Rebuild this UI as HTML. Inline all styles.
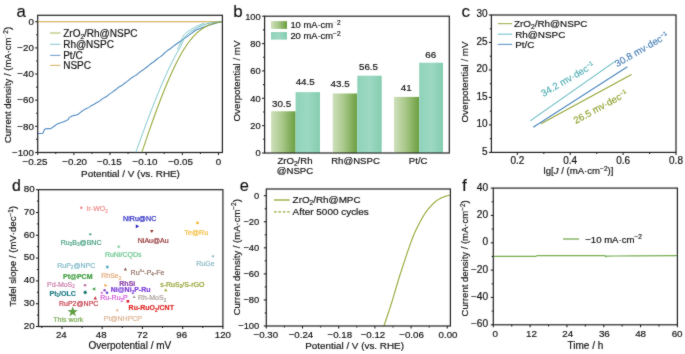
<!DOCTYPE html>
<html><head><meta charset="utf-8"><style>
html,body{margin:0;padding:0;background:#fff;width:685px;height:354px;overflow:hidden}
svg{display:block;font-family:"Liberation Sans", sans-serif}
</style></head><body>
<svg width="685" height="354" viewBox="0 0 685 354">
<defs><filter id="bl" x="0" y="0" width="1" height="1"><feConvolveMatrix order="3" kernelMatrix="1 2 1 2 24 2 1 2 1" edgeMode="none" preserveAlpha="false"/></filter></defs>
<rect width="685" height="354" fill="#fff"/>
<g filter="url(#bl)">
<text x="16.60" y="17.00" font-size="16.8" text-anchor="start" fill="#111" stroke="#111" stroke-width="0.15" >a</text>
<polyline points="38.30,21.70 221.80,21.70" fill="none" stroke="#c9a23a" stroke-width="1.15" stroke-linejoin="round" stroke-linecap="round" />
<polyline points="38.00,133.60 40.45,133.40 42.90,133.20 44.00,130.50 44.80,129.00 47.80,128.61 50.80,128.70 53.75,126.54 56.70,124.30 59.17,123.21 61.65,122.44 64.12,121.49 66.60,120.40 68.30,119.50 69.20,117.40 71.63,116.21 74.07,115.36 76.50,115.00 78.97,113.68 81.45,111.53 83.93,109.89 86.40,108.50 88.70,107.63 91.00,105.84 93.30,104.85 95.60,103.21 97.90,102.04 100.20,100.60 102.50,98.65 104.80,97.45 107.10,96.03 109.40,94.09 111.70,92.65 114.00,90.80 116.47,89.20 118.95,86.91 121.43,85.78 123.90,83.80 126.62,81.91 129.35,79.67 132.08,77.45 134.80,75.90 137.13,74.46 139.47,72.34 141.80,70.80 144.13,69.17 146.47,67.26 148.80,65.68 151.13,63.44 153.47,62.04 155.80,60.00 158.20,58.08 160.60,56.64 163.00,54.72 165.40,52.14 167.80,50.30 170.20,48.75 172.60,46.88 175.00,45.00 177.55,43.23 180.10,41.45 182.65,39.67 185.20,37.90 187.40,36.30 189.60,34.70 191.80,33.10 194.00,31.50 196.20,29.90 198.74,28.96 201.28,28.02 203.82,27.08 206.36,26.14 208.90,25.20 211.10,24.58 213.30,23.96 215.50,23.34 217.70,22.72 219.90,22.10 222.00,21.70" fill="none" stroke="#4a86bf" stroke-width="1.05" stroke-linejoin="round" stroke-linecap="round" />
<polyline points="135.82,152.30 136.00,151.80 136.18,151.30 136.35,150.80 136.53,150.30 136.71,149.80 136.89,149.30 137.07,148.80 137.25,148.30 137.43,147.80 137.61,147.30 137.79,146.80 137.96,146.30 138.14,145.80 138.32,145.30 138.50,144.80 138.68,144.30 138.86,143.80 139.04,143.30 139.22,142.80 139.41,142.30 139.59,141.80 139.77,141.30 139.95,140.80 140.13,140.30 140.31,139.80 140.49,139.30 140.67,138.80 140.86,138.30 141.04,137.80 141.22,137.30 141.40,136.80 141.58,136.30 141.77,135.80 141.95,135.30 142.13,134.80 142.32,134.30 142.50,133.80 142.68,133.30 142.87,132.80 143.05,132.30 143.23,131.80 143.42,131.30 143.60,130.80 143.79,130.30 143.97,129.80 144.16,129.30 144.34,128.80 144.53,128.30 144.71,127.80 144.90,127.30 145.08,126.80 145.27,126.30 145.45,125.80 145.64,125.30 145.83,124.80 146.01,124.30 146.20,123.80 146.39,123.30 146.58,122.80 146.76,122.30 146.95,121.80 147.14,121.30 147.33,120.80 147.52,120.30 147.70,119.80 147.89,119.30 148.08,118.80 148.27,118.30 148.46,117.80 148.65,117.30 148.84,116.80 149.03,116.30 149.22,115.80 149.41,115.30 149.60,114.80 149.79,114.30 149.99,113.80 150.18,113.30 150.37,112.80 150.56,112.30 150.75,111.80 150.95,111.30 151.14,110.80 151.33,110.30 151.53,109.80 151.72,109.30 151.92,108.80 152.11,108.30 152.30,107.80 152.50,107.30 152.69,106.80 152.89,106.30 153.09,105.80 153.28,105.30 153.48,104.80 153.68,104.30 153.87,103.80 154.07,103.30 154.27,102.80 154.47,102.30 154.66,101.80 154.86,101.30 155.06,100.80 155.26,100.30 155.46,99.80 155.66,99.30 155.86,98.80 156.06,98.30 156.26,97.80 156.47,97.30 156.67,96.80 156.87,96.30 157.07,95.80 157.27,95.30 157.48,94.80 157.68,94.30 157.89,93.80 158.09,93.30 158.30,92.80 158.50,92.30 158.71,91.80 158.91,91.30 159.12,90.80 159.33,90.30 159.54,89.80 159.74,89.30 159.95,88.80 160.16,88.30 160.37,87.80 160.58,87.30 160.79,86.80 161.00,86.30 161.21,85.80 161.43,85.30 161.64,84.80 161.85,84.30 162.07,83.80 162.28,83.30 162.49,82.80 162.71,82.30 162.93,81.80 163.14,81.30 163.36,80.80 163.58,80.30 163.80,79.80 164.01,79.30 164.23,78.80 164.45,78.30 164.68,77.80 164.90,77.30 165.12,76.80 165.34,76.30 165.57,75.80 165.79,75.30 166.02,74.80 166.24,74.30 166.47,73.80 166.70,73.30 166.92,72.80 167.15,72.30 167.38,71.80 167.61,71.30 167.85,70.80 168.08,70.30 168.31,69.80 168.55,69.30 168.78,68.80 169.02,68.30 169.25,67.80 169.49,67.30 169.73,66.80 169.97,66.30 170.21,65.80 170.45,65.30 170.70,64.80 170.94,64.30 171.19,63.80 171.44,63.30 171.68,62.80 171.93,62.30 172.18,61.80 172.44,61.30 172.69,60.80 172.94,60.30 173.20,59.80 173.46,59.30 173.72,58.80 173.98,58.30 174.24,57.80 174.50,57.30 174.77,56.80 175.04,56.30 175.30,55.80 175.57,55.30 175.85,54.80 176.12,54.30 176.40,53.80 176.67,53.30 176.95,52.80 177.24,52.30 177.52,51.80 177.80,51.30 178.09,50.80 178.37,50.30 178.66,49.80 178.95,49.30 179.23,48.80 179.52,48.30 179.80,47.80 180.08,47.30 180.35,46.80 180.62,46.30 180.88,45.80 181.14,45.30 181.38,44.80 181.62,44.30 181.85,43.80 182.06,43.30 182.27,42.80 182.47,42.30 182.67,41.80 182.86,41.30 183.05,40.80 183.25,40.30 183.46,39.80 183.67,39.30 183.91,38.80 184.17,38.30 184.46,37.80 184.78,37.30 185.13,36.80 185.52,36.30 185.96,35.80 186.43,35.30 186.95,34.80 187.50,34.30 188.09,33.80 188.71,33.30 189.37,32.80 190.06,32.30 190.77,31.80 191.50,31.30 192.26,30.80 193.03,30.30 193.82,29.80 194.63,29.30 195.46,28.80 196.32,28.30 197.21,27.80 198.13,27.30 199.10,26.80 200.12,26.30 201.22,25.80 202.41,25.30 203.72,24.80 205.19,24.30 206.89,23.80 208.91,23.30 211.43,22.80 214.86,22.30 220.33,21.80 221.98,21.70" fill="none" stroke="#62b9c0" stroke-width="1.0" stroke-linejoin="round" stroke-linecap="round" />
<polyline points="177.46,48.90 177.75,48.40 178.03,47.90 178.31,47.40 178.60,46.90 178.87,46.40 179.15,45.90 179.41,45.40 179.67,44.90 179.92,44.40 180.17,43.90 180.40,43.40 180.61,42.90 180.82,42.40 181.02,41.90 181.20,41.40 181.38,40.90 181.54,40.40 181.71,39.90 181.87,39.40 182.03,38.90 182.21,38.40 182.40,37.90 182.60,37.40 182.84,36.90 183.10,36.40 183.40,35.90 183.73,35.40 184.11,34.90 184.54,34.40 185.01,33.90 185.54,33.40 186.10,32.90 186.72,32.40 187.37,31.90 188.07,31.40 188.80,30.90 189.56,30.40 190.36,29.90 191.18,29.40 192.02,28.90 192.89,28.40 193.77,27.90 194.69,27.40 195.63,26.90 196.61,26.40 197.62,25.90 198.69,25.40 199.83,24.90 201.05,24.40 202.40,23.90 203.89,23.40" fill="none" stroke="#62b9c0" stroke-width="0.8" stroke-linejoin="round" stroke-linecap="round" />
<polyline points="141.89,152.30 142.05,151.80 142.22,151.30 142.39,150.80 142.55,150.30 142.72,149.80 142.89,149.30 143.05,148.80 143.22,148.30 143.39,147.80 143.56,147.30 143.72,146.80 143.89,146.30 144.06,145.80 144.23,145.30 144.39,144.80 144.56,144.30 144.73,143.80 144.90,143.30 145.07,142.80 145.24,142.30 145.41,141.80 145.58,141.30 145.75,140.80 145.92,140.30 146.09,139.80 146.26,139.30 146.43,138.80 146.60,138.30 146.77,137.80 146.94,137.30 147.11,136.80 147.28,136.30 147.45,135.80 147.63,135.30 147.80,134.80 147.97,134.30 148.14,133.80 148.32,133.30 148.49,132.80 148.66,132.30 148.83,131.80 149.01,131.30 149.18,130.80 149.36,130.30 149.53,129.80 149.70,129.30 149.88,128.80 150.05,128.30 150.23,127.80 150.40,127.30 150.58,126.80 150.75,126.30 150.93,125.80 151.11,125.30 151.28,124.80 151.46,124.30 151.64,123.80 151.81,123.30 151.99,122.80 152.17,122.30 152.35,121.80 152.53,121.30 152.70,120.80 152.88,120.30 153.06,119.80 153.24,119.30 153.42,118.80 153.60,118.30 153.78,117.80 153.96,117.30 154.14,116.80 154.32,116.30 154.50,115.80 154.69,115.30 154.87,114.80 155.05,114.30 155.23,113.80 155.42,113.30 155.60,112.80 155.78,112.30 155.97,111.80 156.15,111.30 156.33,110.80 156.52,110.30 156.70,109.80 156.89,109.30 157.08,108.80 157.26,108.30 157.45,107.80 157.63,107.30 157.82,106.80 158.01,106.30 158.20,105.80 158.39,105.30 158.57,104.80 158.76,104.30 158.95,103.80 159.14,103.30 159.33,102.80 159.52,102.30 159.71,101.80 159.91,101.30 160.10,100.80 160.29,100.30 160.48,99.80 160.67,99.30 160.87,98.80 161.06,98.30 161.26,97.80 161.45,97.30 161.65,96.80 161.84,96.30 162.04,95.80 162.23,95.30 162.43,94.80 162.63,94.30 162.83,93.80 163.03,93.30 163.22,92.80 163.42,92.30 163.62,91.80 163.83,91.30 164.03,90.80 164.23,90.30 164.43,89.80 164.63,89.30 164.84,88.80 165.04,88.30 165.24,87.80 165.45,87.30 165.66,86.80 165.86,86.30 166.07,85.80 166.28,85.30 166.48,84.80 166.69,84.30 166.90,83.80 167.11,83.30 167.32,82.80 167.54,82.30 167.75,81.80 167.96,81.30 168.17,80.80 168.39,80.30 168.60,79.80 168.82,79.30 169.04,78.80 169.25,78.30 169.47,77.80 169.69,77.30 169.91,76.80 170.13,76.30 170.35,75.80 170.57,75.30 170.80,74.80 171.02,74.30 171.25,73.80 171.47,73.30 171.70,72.80 171.93,72.30 172.16,71.80 172.39,71.30 172.62,70.80 172.85,70.30 173.08,69.80 173.32,69.30 173.55,68.80 173.79,68.30 174.03,67.80 174.27,67.30 174.51,66.80 174.75,66.30 174.99,65.80 175.23,65.30 175.48,64.80 175.73,64.30 175.97,63.80 176.22,63.30 176.47,62.80 176.73,62.30 176.98,61.80 177.23,61.30 177.49,60.80 177.75,60.30 178.01,59.80 178.27,59.30 178.54,58.80 178.80,58.30 179.07,57.80 179.34,57.30 179.61,56.80 179.88,56.30 180.16,55.80 180.43,55.30 180.71,54.80 181.00,54.30 181.28,53.80 181.57,53.30 181.85,52.80 182.15,52.30 182.44,51.80 182.74,51.30 183.04,50.80 183.34,50.30 183.64,49.80 183.95,49.30 184.26,48.80 184.58,48.30 184.90,47.80 185.22,47.30 185.54,46.80 185.87,46.30 186.21,45.80 186.54,45.30 186.88,44.80 187.23,44.30 187.58,43.80 187.93,43.30 188.29,42.80 188.66,42.30 189.03,41.80 189.41,41.30 189.79,40.80 190.18,40.30 190.57,39.80 190.98,39.30 191.39,38.80 191.80,38.30 192.23,37.80 192.66,37.30 193.11,36.80 193.56,36.30 194.02,35.80 194.50,35.30 194.98,34.80 195.48,34.30 195.99,33.80 196.52,33.30 197.06,32.80 197.62,32.30 198.19,31.80 198.79,31.30 199.40,30.80 200.04,30.30 200.71,29.80 201.41,29.30 202.13,28.80 202.89,28.30 203.70,27.80 204.54,27.30 205.44,26.80 206.40,26.30 207.43,25.80 208.54,25.30 209.75,24.80 211.08,24.30 212.56,23.80 214.24,23.30 216.17,22.80 218.48,22.30 221.33,21.80 222.00,21.70" fill="none" stroke="#93a634" stroke-width="1.05" stroke-linejoin="round" stroke-linecap="round" />
<rect x="37.70" y="15.30" width="184.70" height="137.20" fill="none" stroke="#222" stroke-width="1.2"/>
<line x1="35.20" y1="21.70" x2="37.70" y2="21.70" stroke="#222" stroke-width="1.1" />
<text x="33.80" y="25.00" font-size="9.7" text-anchor="end" fill="#111" stroke="#111" stroke-width="0.18" >0</text>
<line x1="35.20" y1="47.86" x2="37.70" y2="47.86" stroke="#222" stroke-width="1.1" />
<text x="33.80" y="51.16" font-size="9.7" text-anchor="end" fill="#111" stroke="#111" stroke-width="0.18" >−20</text>
<line x1="35.20" y1="74.02" x2="37.70" y2="74.02" stroke="#222" stroke-width="1.1" />
<text x="33.80" y="77.32" font-size="9.7" text-anchor="end" fill="#111" stroke="#111" stroke-width="0.18" >−40</text>
<line x1="35.20" y1="100.18" x2="37.70" y2="100.18" stroke="#222" stroke-width="1.1" />
<text x="33.80" y="103.48" font-size="9.7" text-anchor="end" fill="#111" stroke="#111" stroke-width="0.18" >−60</text>
<line x1="35.20" y1="126.34" x2="37.70" y2="126.34" stroke="#222" stroke-width="1.1" />
<text x="33.80" y="129.64" font-size="9.7" text-anchor="end" fill="#111" stroke="#111" stroke-width="0.18" >−80</text>
<line x1="35.20" y1="152.50" x2="37.70" y2="152.50" stroke="#222" stroke-width="1.1" />
<text x="33.80" y="155.80" font-size="9.7" text-anchor="end" fill="#111" stroke="#111" stroke-width="0.18" >−100</text>
<line x1="36.10" y1="34.78" x2="37.70" y2="34.78" stroke="#222" stroke-width="1.1" />
<line x1="36.10" y1="60.94" x2="37.70" y2="60.94" stroke="#222" stroke-width="1.1" />
<line x1="36.10" y1="87.10" x2="37.70" y2="87.10" stroke="#222" stroke-width="1.1" />
<line x1="36.10" y1="113.26" x2="37.70" y2="113.26" stroke="#222" stroke-width="1.1" />
<line x1="36.10" y1="139.42" x2="37.70" y2="139.42" stroke="#222" stroke-width="1.1" />
<line x1="37.70" y1="152.50" x2="37.70" y2="155.00" stroke="#222" stroke-width="1.1" />
<text x="35.00" y="165.30" font-size="9.8" text-anchor="middle" fill="#111" stroke="#111" stroke-width="0.18" >−0.25</text>
<line x1="73.86" y1="152.50" x2="73.86" y2="155.00" stroke="#222" stroke-width="1.1" />
<text x="74.66" y="165.30" font-size="9.8" text-anchor="middle" fill="#111" stroke="#111" stroke-width="0.18" >−0.20</text>
<line x1="110.02" y1="152.50" x2="110.02" y2="155.00" stroke="#222" stroke-width="1.1" />
<text x="109.32" y="165.30" font-size="9.8" text-anchor="middle" fill="#111" stroke="#111" stroke-width="0.18" >−0.15</text>
<line x1="146.18" y1="152.50" x2="146.18" y2="155.00" stroke="#222" stroke-width="1.1" />
<text x="144.98" y="165.30" font-size="9.8" text-anchor="middle" fill="#111" stroke="#111" stroke-width="0.18" >−0.10</text>
<line x1="182.34" y1="152.50" x2="182.34" y2="155.00" stroke="#222" stroke-width="1.1" />
<text x="180.54" y="165.30" font-size="9.8" text-anchor="middle" fill="#111" stroke="#111" stroke-width="0.18" >−0.05</text>
<line x1="218.50" y1="152.50" x2="218.50" y2="155.00" stroke="#222" stroke-width="1.1" />
<text x="218.50" y="165.30" font-size="9.8" text-anchor="middle" fill="#111" stroke="#111" stroke-width="0.18" >0</text>
<line x1="55.78" y1="152.50" x2="55.78" y2="154.10" stroke="#222" stroke-width="1.1" />
<line x1="91.94" y1="152.50" x2="91.94" y2="154.10" stroke="#222" stroke-width="1.1" />
<line x1="128.10" y1="152.50" x2="128.10" y2="154.10" stroke="#222" stroke-width="1.1" />
<line x1="164.26" y1="152.50" x2="164.26" y2="154.10" stroke="#222" stroke-width="1.1" />
<line x1="200.42" y1="152.50" x2="200.42" y2="154.10" stroke="#222" stroke-width="1.1" />
<text x="130.50" y="176.50" font-size="9.9" text-anchor="middle" fill="#111" stroke="#111" stroke-width="0.18" >Potential / V (vs. RHE)</text>
<text x="0" y="0" font-size="9.5" text-anchor="middle" fill="#111" stroke="#111" stroke-width="0.18" transform="translate(11.40,85.00) rotate(-90)">Current density / (mA·cm<tspan dy="-3.5" font-size="6.5"><tspan fill-opacity="0.25" stroke-opacity="0.25">−</tspan>2</tspan><tspan dy="3.5">)</tspan></text>
<line x1="50.10" y1="33.00" x2="60.40" y2="33.00" stroke="#93a634" stroke-width="1.1" stroke-opacity="0.75"/>
<text x="63.20" y="36.50" font-size="10" text-anchor="start" fill="#111" stroke="#111" stroke-width="0.18" >ZrO<tspan dy="2.2" font-size="6.5">2</tspan><tspan dy="-2.2">/Rh@NSPC</tspan></text>
<line x1="50.10" y1="44.30" x2="60.40" y2="44.30" stroke="#62b9c0" stroke-width="1.1" stroke-opacity="0.75"/>
<text x="63.20" y="47.80" font-size="10" text-anchor="start" fill="#111" stroke="#111" stroke-width="0.18" >Rh@NSPC</text>
<line x1="50.10" y1="55.40" x2="60.40" y2="55.40" stroke="#4a86bf" stroke-width="1.1" stroke-opacity="0.75"/>
<text x="63.20" y="58.90" font-size="10" text-anchor="start" fill="#111" stroke="#111" stroke-width="0.18" >Pt/C</text>
<line x1="50.10" y1="65.40" x2="60.40" y2="65.40" stroke="#c9a23a" stroke-width="1.1" stroke-opacity="0.75"/>
<text x="63.20" y="68.90" font-size="10" text-anchor="start" fill="#111" stroke="#111" stroke-width="0.18" >NSPC</text>
<text x="233.20" y="17.10" font-size="16.9" text-anchor="start" fill="#111" stroke="#111" stroke-width="0.15" >b</text>
<defs><linearGradient id="g10" x1="0" x2="1" y1="0" y2="0"><stop offset="0" stop-color="#cfe0bc"/><stop offset="0.45" stop-color="#a9c88a"/><stop offset="1" stop-color="#6a9e3e"/></linearGradient><linearGradient id="g20" x1="0" x2="1" y1="0" y2="0"><stop offset="0" stop-color="#8fd3b9"/><stop offset="0.5" stop-color="#9dd8c3"/><stop offset="1" stop-color="#84cdb0"/></linearGradient></defs>
<rect x="271.10" y="111.28" width="24.50" height="41.72" fill="url(#g10)" />
<text x="281.60" y="106.90" font-size="9.8" text-anchor="middle" fill="#111" stroke="#111" stroke-width="0.18" >30.5</text>
<rect x="295.60" y="92.12" width="24.40" height="60.88" fill="url(#g20)" />
<text x="305.20" y="85.20" font-size="9.8" text-anchor="middle" fill="#111" stroke="#111" stroke-width="0.18" >44.5</text>
<rect x="332.70" y="93.49" width="24.60" height="59.51" fill="url(#g10)" />
<text x="340.10" y="87.20" font-size="9.8" text-anchor="middle" fill="#111" stroke="#111" stroke-width="0.18" >43.5</text>
<rect x="357.30" y="75.71" width="24.40" height="77.29" fill="url(#g20)" />
<text x="368.50" y="69.80" font-size="9.8" text-anchor="middle" fill="#111" stroke="#111" stroke-width="0.18" >56.5</text>
<rect x="394.00" y="96.91" width="25.20" height="56.09" fill="url(#g10)" />
<text x="406.20" y="90.50" font-size="9.8" text-anchor="middle" fill="#111" stroke="#111" stroke-width="0.18" >41</text>
<rect x="419.20" y="62.71" width="23.80" height="90.29" fill="url(#g20)" />
<text x="430.80" y="58.30" font-size="9.8" text-anchor="middle" fill="#111" stroke="#111" stroke-width="0.18" >66</text>
<rect x="264.60" y="16.20" width="184.70" height="136.80" fill="none" stroke="#222" stroke-width="1.2"/>
<line x1="262.10" y1="153.00" x2="264.60" y2="153.00" stroke="#222" stroke-width="1.1" />
<text x="260.70" y="156.30" font-size="9.3" text-anchor="end" fill="#111" stroke="#111" stroke-width="0.18" >0</text>
<line x1="262.10" y1="125.64" x2="264.60" y2="125.64" stroke="#222" stroke-width="1.1" />
<text x="260.70" y="128.94" font-size="9.3" text-anchor="end" fill="#111" stroke="#111" stroke-width="0.18" >20</text>
<line x1="262.10" y1="98.28" x2="264.60" y2="98.28" stroke="#222" stroke-width="1.1" />
<text x="260.70" y="101.58" font-size="9.3" text-anchor="end" fill="#111" stroke="#111" stroke-width="0.18" >40</text>
<line x1="262.10" y1="70.92" x2="264.60" y2="70.92" stroke="#222" stroke-width="1.1" />
<text x="260.70" y="74.22" font-size="9.3" text-anchor="end" fill="#111" stroke="#111" stroke-width="0.18" >60</text>
<line x1="262.10" y1="43.56" x2="264.60" y2="43.56" stroke="#222" stroke-width="1.1" />
<text x="260.70" y="46.86" font-size="9.3" text-anchor="end" fill="#111" stroke="#111" stroke-width="0.18" >80</text>
<line x1="262.10" y1="16.20" x2="264.60" y2="16.20" stroke="#222" stroke-width="1.1" />
<text x="260.70" y="19.50" font-size="9.3" text-anchor="end" fill="#111" stroke="#111" stroke-width="0.18" >100</text>
<line x1="263.00" y1="139.32" x2="264.60" y2="139.32" stroke="#222" stroke-width="1.1" />
<line x1="263.00" y1="111.96" x2="264.60" y2="111.96" stroke="#222" stroke-width="1.1" />
<line x1="263.00" y1="84.60" x2="264.60" y2="84.60" stroke="#222" stroke-width="1.1" />
<line x1="263.00" y1="57.24" x2="264.60" y2="57.24" stroke="#222" stroke-width="1.1" />
<line x1="263.00" y1="29.88" x2="264.60" y2="29.88" stroke="#222" stroke-width="1.1" />
<text x="295.00" y="164.20" font-size="9.6" text-anchor="middle" fill="#111" stroke="#111" stroke-width="0.18" >ZrO<tspan dy="2.2" font-size="6.5">2</tspan><tspan dy="-2.2">/Rh</tspan></text>
<text x="295.00" y="173.80" font-size="9.6" text-anchor="middle" fill="#111" stroke="#111" stroke-width="0.18" >@NSPC</text>
<text x="355.50" y="164.20" font-size="9.6" text-anchor="middle" fill="#111" stroke="#111" stroke-width="0.18" >Rh@NSPC</text>
<text x="418.20" y="164.20" font-size="9.6" text-anchor="middle" fill="#111" stroke="#111" stroke-width="0.18" >Pt/C</text>
<text x="0" y="0" font-size="9.8" text-anchor="middle" fill="#111" stroke="#111" stroke-width="0.18" transform="translate(240.20,81.00) rotate(-90)">Overpotential / mV</text>
<rect x="271.00" y="21.10" width="16.00" height="7.80" fill="url(#g10)" />
<rect x="271.00" y="32.00" width="16.00" height="7.60" fill="url(#g20)" />
<text x="290.40" y="28.20" font-size="9.4" text-anchor="start" fill="#111" stroke="#111" stroke-width="0.18" >10 mA·cm<tspan dy="-3.5" font-size="6.5"><tspan fill-opacity="0.2" stroke-opacity="0.2">−</tspan>2</tspan></text>
<text x="290.40" y="39.00" font-size="9.4" text-anchor="start" fill="#111" stroke="#111" stroke-width="0.18" >20 mA·cm<tspan dy="-3.5" font-size="6.5">−2</tspan></text>
<text x="461.60" y="17.20" font-size="17" text-anchor="start" fill="#111" stroke="#111" stroke-width="0.15" >c</text>
<line x1="530.20" y1="120.90" x2="614.70" y2="61.60" stroke="#62b9c0" stroke-width="1.1" />
<line x1="533.20" y1="127.30" x2="627.40" y2="66.70" stroke="#4a86bf" stroke-width="1.1" />
<line x1="540.90" y1="123.80" x2="631.50" y2="74.40" stroke="#93a634" stroke-width="1.1" />
<rect x="491.40" y="15.00" width="184.60" height="137.40" fill="none" stroke="#222" stroke-width="1.2"/>
<line x1="488.90" y1="152.40" x2="491.40" y2="152.40" stroke="#222" stroke-width="1.1" />
<text x="487.50" y="154.50" font-size="10" text-anchor="end" fill="#111" stroke="#111" stroke-width="0.18" >5</text>
<line x1="488.90" y1="124.92" x2="491.40" y2="124.92" stroke="#222" stroke-width="1.1" />
<text x="487.50" y="127.02" font-size="10" text-anchor="end" fill="#111" stroke="#111" stroke-width="0.18" >10</text>
<line x1="488.90" y1="97.44" x2="491.40" y2="97.44" stroke="#222" stroke-width="1.1" />
<text x="487.50" y="99.54" font-size="10" text-anchor="end" fill="#111" stroke="#111" stroke-width="0.18" >15</text>
<line x1="488.90" y1="69.96" x2="491.40" y2="69.96" stroke="#222" stroke-width="1.1" />
<text x="487.50" y="72.06" font-size="10" text-anchor="end" fill="#111" stroke="#111" stroke-width="0.18" >20</text>
<line x1="488.90" y1="42.48" x2="491.40" y2="42.48" stroke="#222" stroke-width="1.1" />
<text x="487.50" y="44.58" font-size="10" text-anchor="end" fill="#111" stroke="#111" stroke-width="0.18" >25</text>
<line x1="488.90" y1="15.00" x2="491.40" y2="15.00" stroke="#222" stroke-width="1.1" />
<text x="487.50" y="17.10" font-size="10" text-anchor="end" fill="#111" stroke="#111" stroke-width="0.18" >30</text>
<line x1="489.80" y1="138.66" x2="491.40" y2="138.66" stroke="#222" stroke-width="1.1" />
<line x1="489.80" y1="111.18" x2="491.40" y2="111.18" stroke="#222" stroke-width="1.1" />
<line x1="489.80" y1="83.70" x2="491.40" y2="83.70" stroke="#222" stroke-width="1.1" />
<line x1="489.80" y1="56.22" x2="491.40" y2="56.22" stroke="#222" stroke-width="1.1" />
<line x1="489.80" y1="28.74" x2="491.40" y2="28.74" stroke="#222" stroke-width="1.1" />
<line x1="517.34" y1="152.40" x2="517.34" y2="154.90" stroke="#222" stroke-width="1.1" />
<text x="517.34" y="164.20" font-size="10" text-anchor="middle" fill="#111" stroke="#111" stroke-width="0.18" >0.2</text>
<line x1="570.23" y1="152.40" x2="570.23" y2="154.90" stroke="#222" stroke-width="1.1" />
<text x="570.23" y="164.20" font-size="10" text-anchor="middle" fill="#111" stroke="#111" stroke-width="0.18" >0.4</text>
<line x1="623.11" y1="152.40" x2="623.11" y2="154.90" stroke="#222" stroke-width="1.1" />
<text x="623.11" y="164.20" font-size="10" text-anchor="middle" fill="#111" stroke="#111" stroke-width="0.18" >0.6</text>
<line x1="676.00" y1="152.40" x2="676.00" y2="154.90" stroke="#222" stroke-width="1.1" />
<text x="676.00" y="164.20" font-size="10" text-anchor="middle" fill="#111" stroke="#111" stroke-width="0.18" >0.8</text>
<line x1="543.79" y1="152.40" x2="543.79" y2="154.00" stroke="#222" stroke-width="1.1" />
<line x1="596.67" y1="152.40" x2="596.67" y2="154.00" stroke="#222" stroke-width="1.1" />
<line x1="649.56" y1="152.40" x2="649.56" y2="154.00" stroke="#222" stroke-width="1.1" />
<text x="578.50" y="174.30" font-size="9.6" text-anchor="middle" fill="#111" stroke="#111" stroke-width="0.18" >lg[<tspan font-style="italic">J</tspan> / (mA·cm<tspan dy="-3.5" font-size="6.5">−2</tspan><tspan dy="3.5">)]</tspan></text>
<text x="0" y="0" font-size="9.8" text-anchor="middle" fill="#111" stroke="#111" stroke-width="0.18" transform="translate(468.00,82.00) rotate(-90)">Overpotential / mV</text>
<line x1="497.80" y1="23.60" x2="512.20" y2="23.60" stroke="#93a634" stroke-width="1.2" stroke-opacity="0.8"/>
<text x="514.00" y="27.10" font-size="9.9" text-anchor="start" fill="#111" stroke="#111" stroke-width="0.18" >ZrO<tspan dy="2.2" font-size="6.5">2</tspan><tspan dy="-2.2">/Rh@NSPC</tspan></text>
<line x1="497.80" y1="34.20" x2="512.20" y2="34.20" stroke="#62b9c0" stroke-width="1.2" stroke-opacity="0.8"/>
<text x="515.20" y="37.70" font-size="9.9" text-anchor="start" fill="#111" stroke="#111" stroke-width="0.18" >Rh@NSPC</text>
<line x1="497.80" y1="44.40" x2="512.20" y2="44.40" stroke="#4a86bf" stroke-width="1.2" stroke-opacity="0.8"/>
<text x="515.20" y="47.90" font-size="9.9" text-anchor="start" fill="#111" stroke="#111" stroke-width="0.18" >Pt/C</text>
<text x="0" y="0" font-size="9.6" fill="#52aeb4" stroke="#52aeb4" stroke-width="0.18" transform="translate(543.40,97.00) rotate(-30)">34.2 mv·dec<tspan dy="-3.3" font-size="6">−1</tspan></text>
<text x="0" y="0" font-size="9.6" fill="#4a80b8" stroke="#4a80b8" stroke-width="0.18" transform="translate(617.30,67.20) rotate(-30)">30.8 mv·dec<tspan dy="-3.3" font-size="6">−1</tspan></text>
<text x="0" y="0" font-size="9.6" fill="#8ea230" stroke="#8ea230" stroke-width="0.18" transform="translate(575.80,124.00) rotate(-28.5)">26.5 mv·dec<tspan dy="-3.3" font-size="6">−1</tspan></text>
<text x="11.90" y="190.60" font-size="15.9" text-anchor="start" fill="#111" stroke="#111" stroke-width="0.2" >d</text>
<rect x="38.50" y="189.70" width="184.40" height="136.80" fill="none" stroke="#222" stroke-width="1.2"/>
<line x1="36.00" y1="326.50" x2="38.50" y2="326.50" stroke="#222" stroke-width="1.1" />
<text x="34.60" y="328.70" font-size="9.8" text-anchor="end" fill="#111" stroke="#111" stroke-width="0.18" >20</text>
<line x1="36.00" y1="303.70" x2="38.50" y2="303.70" stroke="#222" stroke-width="1.1" />
<text x="34.60" y="305.90" font-size="9.8" text-anchor="end" fill="#111" stroke="#111" stroke-width="0.18" >30</text>
<line x1="36.00" y1="280.90" x2="38.50" y2="280.90" stroke="#222" stroke-width="1.1" />
<text x="34.60" y="283.10" font-size="9.8" text-anchor="end" fill="#111" stroke="#111" stroke-width="0.18" >40</text>
<line x1="36.00" y1="258.10" x2="38.50" y2="258.10" stroke="#222" stroke-width="1.1" />
<text x="34.60" y="260.30" font-size="9.8" text-anchor="end" fill="#111" stroke="#111" stroke-width="0.18" >50</text>
<line x1="36.00" y1="235.30" x2="38.50" y2="235.30" stroke="#222" stroke-width="1.1" />
<text x="34.60" y="237.50" font-size="9.8" text-anchor="end" fill="#111" stroke="#111" stroke-width="0.18" >60</text>
<line x1="36.00" y1="212.50" x2="38.50" y2="212.50" stroke="#222" stroke-width="1.1" />
<text x="34.60" y="214.70" font-size="9.8" text-anchor="end" fill="#111" stroke="#111" stroke-width="0.18" >70</text>
<line x1="36.00" y1="189.70" x2="38.50" y2="189.70" stroke="#222" stroke-width="1.1" />
<text x="34.60" y="191.90" font-size="9.8" text-anchor="end" fill="#111" stroke="#111" stroke-width="0.18" >80</text>
<line x1="36.90" y1="315.10" x2="38.50" y2="315.10" stroke="#222" stroke-width="1.1" />
<line x1="36.90" y1="292.30" x2="38.50" y2="292.30" stroke="#222" stroke-width="1.1" />
<line x1="36.90" y1="269.50" x2="38.50" y2="269.50" stroke="#222" stroke-width="1.1" />
<line x1="36.90" y1="246.70" x2="38.50" y2="246.70" stroke="#222" stroke-width="1.1" />
<line x1="36.90" y1="223.90" x2="38.50" y2="223.90" stroke="#222" stroke-width="1.1" />
<line x1="36.90" y1="201.10" x2="38.50" y2="201.10" stroke="#222" stroke-width="1.1" />
<line x1="61.97" y1="326.50" x2="61.97" y2="329.00" stroke="#222" stroke-width="1.1" />
<text x="61.27" y="337.70" font-size="9.7" text-anchor="middle" fill="#111" stroke="#111" stroke-width="0.18" >24</text>
<line x1="102.20" y1="326.50" x2="102.20" y2="329.00" stroke="#222" stroke-width="1.1" />
<text x="101.20" y="337.70" font-size="9.7" text-anchor="middle" fill="#111" stroke="#111" stroke-width="0.18" >48</text>
<line x1="142.43" y1="326.50" x2="142.43" y2="329.00" stroke="#222" stroke-width="1.1" />
<text x="142.43" y="337.70" font-size="9.7" text-anchor="middle" fill="#111" stroke="#111" stroke-width="0.18" >72</text>
<line x1="182.67" y1="326.50" x2="182.67" y2="329.00" stroke="#222" stroke-width="1.1" />
<text x="181.67" y="337.70" font-size="9.7" text-anchor="middle" fill="#111" stroke="#111" stroke-width="0.18" >96</text>
<line x1="222.90" y1="326.50" x2="222.90" y2="329.00" stroke="#222" stroke-width="1.1" />
<text x="222.90" y="337.70" font-size="9.7" text-anchor="middle" fill="#111" stroke="#111" stroke-width="0.18" >120</text>
<line x1="41.85" y1="326.50" x2="41.85" y2="328.10" stroke="#222" stroke-width="1.1" />
<line x1="82.09" y1="326.50" x2="82.09" y2="328.10" stroke="#222" stroke-width="1.1" />
<line x1="122.32" y1="326.50" x2="122.32" y2="328.10" stroke="#222" stroke-width="1.1" />
<line x1="162.55" y1="326.50" x2="162.55" y2="328.10" stroke="#222" stroke-width="1.1" />
<line x1="202.78" y1="326.50" x2="202.78" y2="328.10" stroke="#222" stroke-width="1.1" />
<text x="129.80" y="348.80" font-size="10" text-anchor="middle" fill="#111" stroke="#111" stroke-width="0.18" >Overpotential / mV</text>
<text x="0" y="0" font-size="9.6" text-anchor="middle" fill="#111" stroke="#111" stroke-width="0.18" transform="translate(16.30,256.30) rotate(-90)">Tafel slope / (mV·dec<tspan dy="-3.5" font-size="6.5">−1</tspan><tspan dy="3.5">)</tspan></text>
<circle cx="81.30" cy="207.70" r="1.3" fill="#f08a8a"/>
<text x="86.60" y="211.20" font-size="7.0" text-anchor="start" fill="#f08a8a" stroke="#f08a8a" stroke-width="0.18" >Ir-WO<tspan dy="1.6" font-size="4.6">2</tspan></text>
<polygon points="88.80,233.40 91.80,233.40 91.05,235.20 89.55,235.20" fill="#3c9a7c"/>
<text x="60.80" y="244.50" font-size="7.0" text-anchor="start" fill="#3c9a7c" stroke="#3c9a7c" stroke-width="0.18" >Ru<tspan dy="1.6" font-size="4.6">2</tspan><tspan dy="-1.6">B</tspan><tspan dy="1.6" font-size="4.6">3</tspan><tspan dy="-1.6">@BNC</tspan></text>
<polygon points="120.58,246.80 117.78,245.26 117.78,248.34" fill="#66c488"/>
<text x="104.90" y="257.00" font-size="7.0" text-anchor="start" fill="#66c488" stroke="#66c488" stroke-width="0.18" >RuNi/CQDs</text>
<polygon points="139.24,226.30 135.84,224.43 135.84,228.17" fill="#2828b8"/>
<text x="123.10" y="220.50" font-size="7.1" text-anchor="start" fill="#3030c4" stroke="#3030c4" stroke-width="0.25" >NiRu@NC</text>
<polygon points="151.80,233.10 153.45,230.10 150.15,230.10" fill="#8e2a2a"/>
<text x="137.80" y="243.40" font-size="7.0" text-anchor="start" fill="#8e2a2a" stroke="#8e2a2a" stroke-width="0.18" >NiAu@Au</text>
<circle cx="197.50" cy="222.90" r="1.4" fill="#f0b830"/>
<text x="184.60" y="235.20" font-size="7.0" text-anchor="start" fill="#f0b830" stroke="#f0b830" stroke-width="0.18" >Te@Ru</text>
<polygon points="211.24,256.30 213.84,254.87 213.84,257.73" fill="#88b4c4"/>
<text x="196.30" y="266.00" font-size="7.0" text-anchor="start" fill="#88b4c4" stroke="#88b4c4" stroke-width="0.18" >RuGe</text>
<rect x="106.00" y="265.70" width="2.60" height="2.60" fill="#5ab0c0"/>
<text x="57.20" y="267.70" font-size="7.0" text-anchor="start" fill="#7ab6c6" stroke="#7ab6c6" stroke-width="0.18" >RuP<tspan dy="1.6" font-size="4.6">2</tspan><tspan dy="-1.6">@NPC</tspan></text>
<polygon points="125.40,267.50 127.05,270.50 123.75,270.50" fill="#8a5a4a"/>
<text x="130.60" y="274.80" font-size="7.0" text-anchor="start" fill="#8a6a5c" stroke="#8a6a5c" stroke-width="0.18" >Ru<tspan dy="-2.6" font-size="4.2">3+</tspan><tspan dy="2.6">-P</tspan><tspan dy="1.6" font-size="4.6">4</tspan><tspan dy="-1.6">-Fe</tspan></text>
<text x="63.10" y="278.50" font-size="7.0" text-anchor="start" fill="#3c9c3c" stroke="#3c9c3c" stroke-width="0.18" font-weight="bold">Pt@PCM</text>
<text x="101.20" y="278.10" font-size="7.0" text-anchor="start" fill="#e2a672" stroke="#e2a672" stroke-width="0.18" >RhSe<tspan dy="1.6" font-size="4.6">2</tspan></text>
<circle cx="85.10" cy="285.30" r="1.3" fill="#c070a8"/>
<text x="47.00" y="286.80" font-size="7.0" text-anchor="start" fill="#c878a8" stroke="#c878a8" stroke-width="0.18" >Pd-MoS<tspan dy="1.6" font-size="4.6">2</tspan></text>
<polygon points="92.08,289.10 95.28,287.34 95.28,290.86" fill="#3c9c3c"/>
<polygon points="107.50,285.40 104.50,283.75 104.50,287.05" fill="#f0a050"/>
<text x="119.30" y="285.50" font-size="7.0" text-anchor="start" fill="#8a40a8" stroke="#8a40a8" stroke-width="0.18" font-weight="bold">RhSi</text>
<polygon points="85.20,290.32 87.28,292.40 85.20,294.48 83.12,292.40" fill="#207878"/>
<text x="49.50" y="295.70" font-size="7.0" text-anchor="start" fill="#207c84" stroke="#207c84" stroke-width="0.18" font-weight="bold">Pt<tspan dy="1.6" font-size="4.6">1</tspan><tspan dy="-1.6">/OLC</tspan></text>
<circle cx="104.60" cy="290.20" r="1.3" fill="#9050c8"/>
<circle cx="107.00" cy="292.80" r="1.3" fill="#7040d0"/>
<circle cx="101.80" cy="292.80" r="1.1" fill="#d060e0"/>
<text x="110.80" y="292.10" font-size="7.0" text-anchor="start" fill="#7a3ad8" stroke="#7a3ad8" stroke-width="0.18" font-weight="bold">Ni@Ni<tspan dy="1.6" font-size="4.6">2</tspan><tspan dy="-1.6">P-Ru</tspan></text>
<polygon points="95.30,296.28 97.06,299.48 93.54,299.48" fill="#c82c3c"/>
<text x="59.00" y="306.40" font-size="7.0" text-anchor="start" fill="#c0303e" stroke="#c0303e" stroke-width="0.18" >RuP2@NPC</text>
<text x="100.30" y="300.30" font-size="7.0" text-anchor="start" fill="#d24ed8" stroke="#d24ed8" stroke-width="0.18" >Ru-Ru<tspan dy="1.6" font-size="4.6">2</tspan><tspan dy="-1.6">P</tspan></text>
<polygon points="134.10,295.32 135.64,298.12 132.56,298.12" fill="#a89a98"/>
<text x="138.00" y="299.90" font-size="7.0" text-anchor="start" fill="#a89a98" stroke="#a89a98" stroke-width="0.18" >Rh-MoS<tspan dy="1.6" font-size="4.6">2</tspan></text>
<rect x="126.60" y="300.00" width="2.60" height="2.60" fill="#e02830"/>
<text x="128.60" y="309.90" font-size="7.0" text-anchor="start" fill="#e02828" stroke="#e02828" stroke-width="0.18" font-weight="bold">Ru-RuO<tspan dy="1.6" font-size="4.6">2</tspan><tspan dy="-1.6">/CNT</tspan></text>
<polygon points="117.20,308.42 118.74,311.22 115.66,311.22" fill="#e8b090"/>
<text x="103.80" y="320.60" font-size="7.0" text-anchor="start" fill="#d9b08e" stroke="#d9b08e" stroke-width="0.18" >Pt@NHPCP</text>
<polygon points="165.80,288.52 167.34,291.32 164.26,291.32" fill="#98a020"/>
<text x="160.20" y="286.80" font-size="7.0" text-anchor="start" fill="#8c991c" stroke="#8c991c" stroke-width="0.18" >s-RuS<tspan dy="1.6" font-size="4.6">2</tspan><tspan dy="-1.6">/S-rGO</tspan></text>
<polygon points="72.70,306.50 73.99,310.12 77.84,310.23 74.79,312.58 75.87,316.27 72.70,314.10 69.53,316.27 70.61,312.58 67.56,310.23 71.41,310.12" fill="#5f9e45"/>
<text x="53.30" y="322.00" font-size="7.0" text-anchor="start" fill="#74a84e" stroke="#74a84e" stroke-width="0.18" >This work</text>
<text x="239.70" y="190.90" font-size="16.4" text-anchor="start" fill="#111" stroke="#111" stroke-width="0.15" >e</text>
<polyline points="383.80,326.30 384.39,324.56 385.17,322.27 386.09,319.54 387.12,316.49 388.22,313.25 389.32,309.92 390.40,306.64 391.40,303.50 392.36,300.40 393.33,297.16 394.31,293.85 395.29,290.51 396.25,287.21 397.20,283.98 398.12,280.89 399.00,278.00 399.86,275.25 400.72,272.56 401.57,269.96 402.39,267.47 403.17,265.11 403.91,262.89 404.59,260.85 405.20,259.00 405.71,257.44 406.12,256.18 406.45,255.14 406.75,254.23 407.04,253.35 407.36,252.42 407.73,251.33 408.20,250.00 408.76,248.42 409.37,246.67 410.03,244.80 410.72,242.86 411.43,240.89 412.16,238.94 412.88,237.06 413.60,235.30 414.31,233.64 415.02,232.04 415.74,230.47 416.46,228.94 417.20,227.44 417.95,225.96 418.72,224.48 419.50,223.00 420.29,221.52 421.09,220.04 421.90,218.58 422.73,217.13 423.57,215.70 424.45,214.30 425.35,212.93 426.30,211.60 427.31,210.28 428.38,208.95 429.50,207.64 430.64,206.36 431.78,205.14 432.90,203.99 433.98,202.94 435.00,202.00 435.95,201.19 436.85,200.49 437.71,199.89 438.55,199.36 439.38,198.89 440.23,198.45 441.09,198.03 442.00,197.60 443.00,197.17 444.10,196.76 445.24,196.38 446.39,196.02 447.48,195.71 448.46,195.42 449.28,195.19 449.90,195.00" fill="none" stroke="#93a634" stroke-width="1.1" stroke-linejoin="round" stroke-linecap="round" />
<rect x="266.30" y="189.00" width="184.10" height="137.00" fill="none" stroke="#222" stroke-width="1.2"/>
<line x1="263.80" y1="195.70" x2="266.30" y2="195.70" stroke="#222" stroke-width="1.1" />
<text x="259.30" y="199.00" font-size="9.4" text-anchor="end" fill="#111" stroke="#111" stroke-width="0.18" >0</text>
<line x1="263.80" y1="221.76" x2="266.30" y2="221.76" stroke="#222" stroke-width="1.1" />
<text x="259.30" y="225.06" font-size="9.4" text-anchor="end" fill="#111" stroke="#111" stroke-width="0.18" >−20</text>
<line x1="263.80" y1="247.82" x2="266.30" y2="247.82" stroke="#222" stroke-width="1.1" />
<text x="259.30" y="251.12" font-size="9.4" text-anchor="end" fill="#111" stroke="#111" stroke-width="0.18" >−40</text>
<line x1="263.80" y1="273.88" x2="266.30" y2="273.88" stroke="#222" stroke-width="1.1" />
<text x="259.30" y="277.18" font-size="9.4" text-anchor="end" fill="#111" stroke="#111" stroke-width="0.18" >−60</text>
<line x1="263.80" y1="299.94" x2="266.30" y2="299.94" stroke="#222" stroke-width="1.1" />
<text x="259.30" y="303.24" font-size="9.4" text-anchor="end" fill="#111" stroke="#111" stroke-width="0.18" >−80</text>
<line x1="263.80" y1="326.00" x2="266.30" y2="326.00" stroke="#222" stroke-width="1.1" />
<text x="259.30" y="329.30" font-size="9.4" text-anchor="end" fill="#111" stroke="#111" stroke-width="0.18" >−100</text>
<line x1="264.70" y1="208.73" x2="266.30" y2="208.73" stroke="#222" stroke-width="1.1" />
<line x1="264.70" y1="234.79" x2="266.30" y2="234.79" stroke="#222" stroke-width="1.1" />
<line x1="264.70" y1="260.85" x2="266.30" y2="260.85" stroke="#222" stroke-width="1.1" />
<line x1="264.70" y1="286.91" x2="266.30" y2="286.91" stroke="#222" stroke-width="1.1" />
<line x1="264.70" y1="312.97" x2="266.30" y2="312.97" stroke="#222" stroke-width="1.1" />
<line x1="266.30" y1="326.00" x2="266.30" y2="328.50" stroke="#222" stroke-width="1.1" />
<text x="265.80" y="337.60" font-size="9.7" text-anchor="middle" fill="#111" stroke="#111" stroke-width="0.18" >−0.30</text>
<line x1="302.50" y1="326.00" x2="302.50" y2="328.50" stroke="#222" stroke-width="1.1" />
<text x="300.90" y="337.60" font-size="9.7" text-anchor="middle" fill="#111" stroke="#111" stroke-width="0.18" >−0.24</text>
<line x1="338.70" y1="326.00" x2="338.70" y2="328.50" stroke="#222" stroke-width="1.1" />
<text x="339.80" y="337.60" font-size="9.7" text-anchor="middle" fill="#111" stroke="#111" stroke-width="0.18" >−0.18</text>
<line x1="374.90" y1="326.00" x2="374.90" y2="328.50" stroke="#222" stroke-width="1.1" />
<text x="372.90" y="337.60" font-size="9.7" text-anchor="middle" fill="#111" stroke="#111" stroke-width="0.18" >−0.12</text>
<line x1="411.10" y1="326.00" x2="411.10" y2="328.50" stroke="#222" stroke-width="1.1" />
<text x="411.60" y="337.60" font-size="9.7" text-anchor="middle" fill="#111" stroke="#111" stroke-width="0.18" >−0.06</text>
<line x1="447.30" y1="326.00" x2="447.30" y2="328.50" stroke="#222" stroke-width="1.1" />
<text x="448.00" y="337.60" font-size="9.7" text-anchor="middle" fill="#111" stroke="#111" stroke-width="0.18" >0.00</text>
<line x1="284.40" y1="326.00" x2="284.40" y2="327.60" stroke="#222" stroke-width="1.1" />
<line x1="320.60" y1="326.00" x2="320.60" y2="327.60" stroke="#222" stroke-width="1.1" />
<line x1="356.80" y1="326.00" x2="356.80" y2="327.60" stroke="#222" stroke-width="1.1" />
<line x1="393.00" y1="326.00" x2="393.00" y2="327.60" stroke="#222" stroke-width="1.1" />
<line x1="429.20" y1="326.00" x2="429.20" y2="327.60" stroke="#222" stroke-width="1.1" />
<text x="354.60" y="348.60" font-size="9.9" text-anchor="middle" fill="#111" stroke="#111" stroke-width="0.18" >Potential / V (vs. RHE)</text>
<text x="0" y="0" font-size="9.5" text-anchor="middle" fill="#111" stroke="#111" stroke-width="0.18" transform="translate(239.50,257.20) rotate(-90)">Current density / (mA·cm<tspan dy="-3.5" font-size="6.5">−2</tspan><tspan dy="3.5">)</tspan></text>
<line x1="274.00" y1="200.00" x2="289.70" y2="200.00" stroke="#93a634" stroke-width="1.3" />
<line x1="274.00" y1="211.90" x2="289.70" y2="211.90" stroke="#93a634" stroke-width="1.1" stroke-dasharray="2.6,1.8"/>
<text x="292.60" y="202.70" font-size="9.9" text-anchor="start" fill="#111" stroke="#111" stroke-width="0.18" >ZrO<tspan dy="2.2" font-size="6.5">2</tspan><tspan dy="-2.2">/Rh@MPC</tspan></text>
<text x="292.60" y="215.40" font-size="9.95" text-anchor="start" fill="#111" stroke="#111" stroke-width="0.18" >After 5000 cycles</text>
<text x="461.90" y="191.20" font-size="17.3" text-anchor="start" fill="#111" stroke="#111" stroke-width="0.15" >f</text>
<polyline points="493.80,256.40 536.00,256.40 537.00,255.60 605.00,255.60 605.60,256.80 606.50,256.20 615.00,256.00 634.00,255.80 676.90,255.60" fill="none" stroke="#78ad52" stroke-width="1.2" stroke-linejoin="round" stroke-linecap="round" />
<rect x="493.30" y="188.10" width="184.10" height="136.70" fill="none" stroke="#222" stroke-width="1.2"/>
<line x1="490.80" y1="188.10" x2="493.30" y2="188.10" stroke="#222" stroke-width="1.1" />
<text x="488.20" y="190.70" font-size="10.2" text-anchor="end" fill="#111" stroke="#111" stroke-width="0.18" >40</text>
<line x1="490.80" y1="215.44" x2="493.30" y2="215.44" stroke="#222" stroke-width="1.1" />
<text x="488.20" y="218.04" font-size="10.2" text-anchor="end" fill="#111" stroke="#111" stroke-width="0.18" >20</text>
<line x1="490.80" y1="242.78" x2="493.30" y2="242.78" stroke="#222" stroke-width="1.1" />
<text x="488.20" y="245.38" font-size="10.2" text-anchor="end" fill="#111" stroke="#111" stroke-width="0.18" >0</text>
<line x1="490.80" y1="270.12" x2="493.30" y2="270.12" stroke="#222" stroke-width="1.1" />
<text x="488.20" y="272.72" font-size="10.2" text-anchor="end" fill="#111" stroke="#111" stroke-width="0.18" >−20</text>
<line x1="490.80" y1="297.46" x2="493.30" y2="297.46" stroke="#222" stroke-width="1.1" />
<text x="488.20" y="300.06" font-size="10.2" text-anchor="end" fill="#111" stroke="#111" stroke-width="0.18" >−40</text>
<line x1="490.80" y1="324.80" x2="493.30" y2="324.80" stroke="#222" stroke-width="1.1" />
<text x="488.20" y="327.40" font-size="10.2" text-anchor="end" fill="#111" stroke="#111" stroke-width="0.18" >−60</text>
<line x1="491.70" y1="201.77" x2="493.30" y2="201.77" stroke="#222" stroke-width="1.1" />
<line x1="491.70" y1="229.11" x2="493.30" y2="229.11" stroke="#222" stroke-width="1.1" />
<line x1="491.70" y1="256.45" x2="493.30" y2="256.45" stroke="#222" stroke-width="1.1" />
<line x1="491.70" y1="283.79" x2="493.30" y2="283.79" stroke="#222" stroke-width="1.1" />
<line x1="491.70" y1="311.13" x2="493.30" y2="311.13" stroke="#222" stroke-width="1.1" />
<line x1="493.30" y1="324.80" x2="493.30" y2="327.30" stroke="#222" stroke-width="1.1" />
<text x="495.20" y="337.20" font-size="9.8" text-anchor="middle" fill="#111" stroke="#111" stroke-width="0.18" >0</text>
<line x1="530.12" y1="324.80" x2="530.12" y2="327.30" stroke="#222" stroke-width="1.1" />
<text x="531.52" y="337.20" font-size="9.8" text-anchor="middle" fill="#111" stroke="#111" stroke-width="0.18" >12</text>
<line x1="566.94" y1="324.80" x2="566.94" y2="327.30" stroke="#222" stroke-width="1.1" />
<text x="567.74" y="337.20" font-size="9.8" text-anchor="middle" fill="#111" stroke="#111" stroke-width="0.18" >24</text>
<line x1="603.76" y1="324.80" x2="603.76" y2="327.30" stroke="#222" stroke-width="1.1" />
<text x="604.36" y="337.20" font-size="9.8" text-anchor="middle" fill="#111" stroke="#111" stroke-width="0.18" >36</text>
<line x1="640.58" y1="324.80" x2="640.58" y2="327.30" stroke="#222" stroke-width="1.1" />
<text x="640.58" y="337.20" font-size="9.8" text-anchor="middle" fill="#111" stroke="#111" stroke-width="0.18" >48</text>
<line x1="677.40" y1="324.80" x2="677.40" y2="327.30" stroke="#222" stroke-width="1.1" />
<text x="677.10" y="337.20" font-size="9.8" text-anchor="middle" fill="#111" stroke="#111" stroke-width="0.18" >60</text>
<line x1="511.71" y1="324.80" x2="511.71" y2="326.40" stroke="#222" stroke-width="1.1" />
<line x1="548.53" y1="324.80" x2="548.53" y2="326.40" stroke="#222" stroke-width="1.1" />
<line x1="585.35" y1="324.80" x2="585.35" y2="326.40" stroke="#222" stroke-width="1.1" />
<line x1="622.17" y1="324.80" x2="622.17" y2="326.40" stroke="#222" stroke-width="1.1" />
<line x1="658.99" y1="324.80" x2="658.99" y2="326.40" stroke="#222" stroke-width="1.1" />
<text x="585.40" y="348.60" font-size="10" text-anchor="middle" fill="#111" stroke="#111" stroke-width="0.18" >Time / h</text>
<text x="0" y="0" font-size="9.5" text-anchor="middle" fill="#111" stroke="#111" stroke-width="0.18" transform="translate(468.40,258.30) rotate(-90)">Current density / (mA·cm<tspan dy="-3.5" font-size="6.5">−2</tspan><tspan dy="3.5">)</tspan></text>
<line x1="563.00" y1="239.00" x2="579.10" y2="239.00" stroke="#78ad52" stroke-width="1.3" />
<text x="585.20" y="242.90" font-size="9.6" text-anchor="start" fill="#111" stroke="#111" stroke-width="0.18" >−10 mA·cm<tspan dy="-3.5" font-size="6.5">−2</tspan></text>
</g>
</svg></body></html>
